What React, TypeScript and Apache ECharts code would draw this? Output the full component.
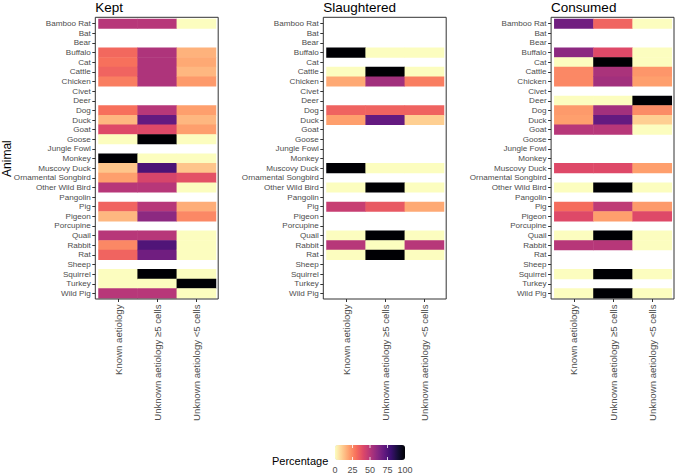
import React, { useEffect, useRef } from "react";
import * as echarts from "echarts";

const N = null;

const animals = [
  "Bamboo Rat", "Bat", "Bear", "Buffalo", "Cat", "Cattle", "Chicken", "Civet", "Deer", "Dog",
  "Duck", "Goat", "Goose", "Jungle Fowl", "Monkey", "Muscovy Duck", "Ornamental Songbird",
  "Other Wild Bird", "Pangolin", "Pig", "Pigeon", "Porcupine", "Quail", "Rabbit", "Rat",
  "Sheep", "Squirrel", "Turkey", "Wild Pig",
];
const columns = ["Known aetiology", "Unknown aetiology ≥5 cells", "Unknown aetiology <5 cells"];
const panelTitles = ["Kept", "Slaughtered", "Consumed"];

// Kept
const keptKnown = [50, N, N, 32, 30, 33, 27, N, N, 30, 15, 40, 0, N, 100, 12, 20, 50, N, 33, 15, N, 50, 25, 33, N, 0, 0, 50];
const keptUnk5 = [50, N, N, 52, 52, 52, 52, N, N, 50, 70, 40, 100, N, 0, 76, 42, 50, N, 50, 60, N, 50, 75, 67, N, 100, 0, 50];
const keptUnkLt5 = [0, N, N, 16, 18, 15, 21, N, N, 20, 15, 20, 0, N, 0, 12, 38, 0, N, 17, 25, N, 0, 0, 0, N, 0, 100, 0];

// Slaughtered
const slKnown = [N, N, N, 100, N, 0, 18, N, N, 33.3, 20, N, N, N, N, 100, N, 0, N, 46, N, N, 0, 50, 0, N, N, N, N];
const slUnk5 = [N, N, N, 0, N, 100, 55, N, N, 33.3, 70, N, N, N, N, 0, N, 100, N, 36, N, N, 100, 0, 100, N, N, N, N];
const slUnkLt5 = [N, N, N, 0, N, 0, 27, N, N, 33.3, 10, N, N, N, N, 0, N, 0, N, 18, N, N, 0, 50, 0, N, N, N, N];

// Consumed
const coKnown = [67, N, N, 60, 0, 25, 25, N, 0, 21, 20, 50, N, N, N, 40, N, 0, N, 31, 40, N, 0, 50, N, N, 0, N, 0];
const coUnk5 = [33, N, N, 40, 100, 53, 55, N, 0, 55, 70, 50, N, N, N, 40, N, 100, N, 48, 20, N, 100, 50, N, N, 100, N, 100];
const coUnkLt5 = [0, N, N, 0, 0, 22, 20, N, 100, 24, 10, 0, N, N, N, 20, N, 0, N, 21, 40, N, 0, 0, N, N, 0, N, 0];

const legendTicks = [0, 25, 50, 75, 100];
const magmaReversed = [
  "#FCFDBF", "#FECF92", "#FE9F6D", "#F7705C", "#DE4968", "#B73779",
  "#8C2981", "#641A80", "#3B0F70", "#140E36", "#000004",
];

const panelData = [
  [keptKnown, keptUnk5, keptUnkLt5],
  [slKnown, slUnk5, slUnkLt5],
  [coKnown, coUnk5, coUnkLt5],
];

export default function App() {
  const ref = useRef<HTMLDivElement>(null);

  useEffect(() => {
    if (!ref.current) return;
    const chart = echarts.init(ref.current, undefined, { renderer: "svg" });

    const tileLeft = [98.5, 326.5, 554.3];
    const tileTop = 18.9;
    const tileW = 117.5;
    const tileH = 279.3;
    const gapL = 3.2, gapR = 2.2, gapT = 1.6, gapB = 0.8;
    const tickLen = 3;
    const font = "Liberation Sans, Arial, Helvetica, sans-serif";

    const grids = tileLeft.map((l) => ({
      left: l, top: tileTop, width: tileW, height: tileH,
      containLabel: false, outerBoundsMode: "none",
    }));

    const xAxes = tileLeft.map((_, i) => ({
      type: "category", gridIndex: i, data: columns, position: "bottom",
      offset: gapB,
      axisLine: { show: false },
      axisTick: { show: true, alignWithLabel: true, length: tickLen, lineStyle: { color: "#333333", width: 1 } },
      axisLabel: { rotate: 90, interval: 0, fontSize: 9.6, color: "#4D4D4D", margin: tickLen + 2.5, fontFamily: font },
      splitLine: { show: false },
    }));

    const yAxes = tileLeft.map((_, i) => ({
      type: "category", gridIndex: i, data: animals, inverse: true,
      offset: gapL,
      axisLine: { show: false },
      axisTick: { show: true, alignWithLabel: true, length: tickLen, lineStyle: { color: "#333333", width: 1 } },
      axisLabel: { interval: 0, fontSize: 8.1, color: "#4D4D4D", margin: tickLen + 1.5, fontFamily: font },
      splitLine: { show: false },
    }));

    const series = panelData.map((cols, p) => {
      const data: any[] = [];
      cols.forEach((arr, c) => {
        arr.forEach((v, r) => {
          if (v !== null) data.push([c, r, v]);
        });
      });
      return {
        type: "heatmap", xAxisIndex: p, yAxisIndex: p, data,
        itemStyle: { borderWidth: 0 },
        emphasis: { disabled: true },
      };
    });

    const barLeft = 335, barTop = 445, barLen = 70, barThick = 15;

    const graphics: any[] = [];
    tileLeft.forEach((l) => {
      graphics.push({
        type: "rect", z: 100,
        shape: { x: l - gapL, y: tileTop - gapT, width: tileW + gapL + gapR, height: tileH + gapT + gapB },
        style: { fill: "none", stroke: "#333333", lineWidth: 1 },
      });
    });
    graphics.push({
      type: "text", x: 7, y: tileTop + tileH / 2, rotation: Math.PI / 2,
      style: { text: "Animal", fontSize: 12, fill: "#000000", align: "center", verticalAlign: "middle", fontFamily: font },
    });
    graphics.push({
      type: "text", x: 272, y: 460.5,
      style: { text: "Percentage", fontSize: 11, fill: "#000000", align: "left", verticalAlign: "middle", fontFamily: font },
    });
    legendTicks.forEach((t) => {
      const x = barLeft + (t / 100) * barLen;
      graphics.push({
        type: "text", x, y: 469.5,
        style: { text: String(t), fontSize: 9, fill: "#4D4D4D", align: "center", verticalAlign: "middle", fontFamily: font },
      });
      if (t > 0 && t < 100) {
        graphics.push({ type: "line", z: 100, shape: { x1: x, y1: barTop, x2: x, y2: barTop + 3 }, style: { stroke: "#ffffff", lineWidth: 0.8 } });
        graphics.push({ type: "line", z: 100, shape: { x1: x, y1: barTop + barThick - 3, x2: x, y2: barTop + barThick }, style: { stroke: "#ffffff", lineWidth: 0.8 } });
      }
    });

    chart.setOption({
      animation: false,
      backgroundColor: "#ffffff",
      textStyle: { fontFamily: font },
      title: panelTitles.map((t, i) => ({
        text: t, left: tileLeft[i] - gapL, top: 0, padding: 0,
        textStyle: { fontSize: 13.5, fontWeight: "normal", color: "#000000", fontFamily: font },
      })),
      grid: grids,
      xAxis: xAxes,
      yAxis: yAxes,
      visualMap: {
        type: "continuous", min: 0, max: 100, seriesIndex: [0, 1, 2],
        orient: "horizontal", left: barLeft, top: barTop, padding: 0,
        itemWidth: barThick, itemHeight: barLen, calculable: false, hoverLink: false,
        showLabel: false,
        inRange: { color: magmaReversed },
      },
      series,
      graphic: graphics,
    });

    return () => chart.dispose();
  }, []);

  return <div ref={ref} style={{ position: "fixed", left: 0, top: 0, width: 676, height: 475 }} />;
}
